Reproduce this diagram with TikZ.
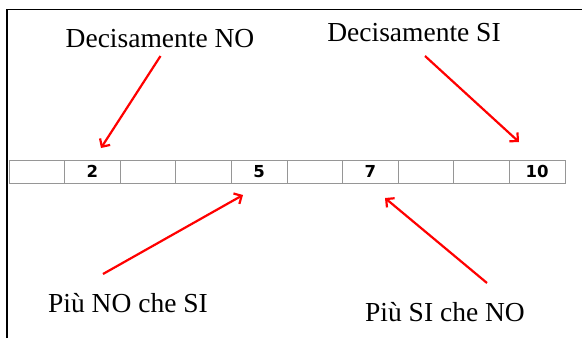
\documentclass[tikz,border=0pt]{standalone}
\usepackage{fontspec}
\setmainfont{Liberation Serif}
\newfontfamily\numfont{DejaVu Sans}
\usepackage{tikz}
\usetikzlibrary{arrows.meta, positioning, calc}
\definecolor{cellgray}{RGB}{150,150,150}
\definecolor{arrowred}{RGB}{255,0,0}

\begin{document}
\begin{tikzpicture}[
    x=1pt, y=-1pt,
    cell/.style={draw=cellgray, line width=0.8pt, minimum width=55.6pt, minimum height=23pt, inner sep=0pt, font=\numfont\bfseries\fontsize{16.5}{18}\selectfont},
    lbl/.style={font=\fontsize{27.5}{32}\selectfont, inner sep=0pt, anchor=base},
    arrow/.style={-{Straight Barb[length=6pt, width=12pt]}, line width=2.2pt, arrowred}
]
    \useasboundingbox (0,0) rectangle (582,338);

    % Frame
    \draw[line width=1.6pt] (7,338) -- (7,9.5) -- (582,9.5);

    % Scale cells
    \foreach \i/\t in {1/,2/2,3/,4/,5/5,6/,7/7,8/,9/,10/10}
        \node[cell] (c\i) at ({9+55.6*(\i-0.5)},171.5) {\t};

    % Labels
    \node[lbl] (dno) at (160,47) {Decisamente NO};
    \node[lbl] (dsi) at (414,41) {Decisamente SI};
    \node[lbl] (pno) at (128,312) {Più NO che SI};
    \node[lbl] (psi) at (445,321) {Più SI che NO};

    % Arrow ends
    \coordinate (dnoS) at (160.5,56);
    \coordinate (dnoE) at (101,148);
    \coordinate (dsiS) at (425,56);
    \coordinate (dsiE) at (519,142);
    \coordinate (pnoS) at (103,274);
    \coordinate (pnoE) at (243,195);
    \coordinate (psiS) at (487,283);
    \coordinate (psiE) at (385,198);

    % Arrows
    \draw[arrow] (dnoS) -- (dnoE);
    \draw[arrow] (dsiS) -- (dsiE);
    \draw[arrow] (pnoS) -- (pnoE);
    \draw[arrow] (psiS) -- (psiE);
\end{tikzpicture}
\end{document}
